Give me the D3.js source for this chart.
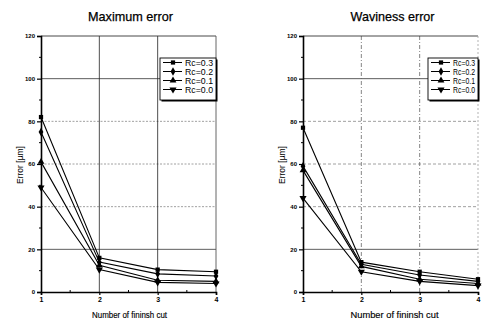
<!DOCTYPE html>
<html>
<head>
<meta charset="utf-8">
<script src="https://cdn.jsdelivr.net/npm/d3@7/dist/d3.min.js"></script>
<style>
  html, body { margin: 0; padding: 0; background: #fff; }
  svg { display: block; }
  text { font-family: "Liberation Sans", Arial, sans-serif; fill: #000; }
</style>
</head>
<body>
<svg id="chart" width="488" height="326"></svg>
<script>
// Finish-cut count on the x axis
const cuts = [1, 2, 3, 4];
const seriesNames = ["Rc=0.3", "Rc=0.2", "Rc=0.1", "Rc=0.0"];
const yTicks = [0, 20, 40, 60, 80, 100, 120];

// Maximum error [µm] per corner radius
const maxRc03 = [82, 16, 10.5, 9.5];
const maxRc02 = [75, 14, 8.5, 7.5];
const maxRc01 = [61, 12.5, 5.5, 5];
const maxRc00 = [49, 10.5, 4.5, 4];

// Waviness error [µm] per corner radius
const wavRc03 = [77, 14, 9.5, 6];
const wavRc02 = [59, 13, 8, 5];
const wavRc01 = [57, 12, 6, 4];
const wavRc00 = [44, 9.5, 5, 3];

const svg = d3.select("#chart");

const symbolTypes = [d3.symbolSquare, d3.symbolDiamond, d3.symbolTriangle, d3.symbolTriangle];
const symbolRot = [0, 0, 0, 180];
const symbolSizes = [18, 20, 20, 22];

function drawPanel(opt) {
  const g = svg.append("g");
  const x = d3.scaleLinear().domain([1, 4]).range([opt.left, opt.right]);
  const y = d3.scaleLinear().domain([0, 120]).range([292, 36]);

  // title
  g.append("text")
    .attr("x", (opt.left + opt.right) / 2 + 2)
    .attr("y", 21)
    .attr("text-anchor", "middle")
    .attr("font-size", 13)
    .attr("stroke", "#000").attr("stroke-width", 0.25)
    .attr("textLength", opt.titleLen)
    .attr("lengthAdjust", "spacingAndGlyphs")
    .text(opt.title);

  // horizontal grid
  g.append("g").selectAll("line")
    .data(yTicks.filter(v => v > 0 && v < 120))
    .join("line")
    .attr("x1", opt.left).attr("x2", opt.right)
    .attr("y1", d => y(d)).attr("y2", d => y(d))
    .attr("stroke", d => (d === 100 || d === 20) ? "#333" : opt.gridSoft)
    .attr("stroke-width", 0.8)
    .attr("stroke-dasharray", d => (d === 100 || d === 20) ? null : opt.hDash);

  // vertical grid
  g.append("g").selectAll("line")
    .data([2, 3])
    .join("line")
    .attr("x1", d => x(d)).attr("x2", d => x(d))
    .attr("y1", y(120)).attr("y2", y(0))
    .attr("stroke", opt.vColor)
    .attr("stroke-width", 0.8)
    .attr("stroke-dasharray", opt.vDash);

  // frame: top and right
  g.append("line")
    .attr("x1", opt.left).attr("x2", opt.right)
    .attr("y1", y(120)).attr("y2", y(120))
    .attr("stroke", "#333").attr("stroke-width", 0.9);
  g.append("line")
    .attr("x1", opt.right).attr("x2", opt.right)
    .attr("y1", y(120)).attr("y2", y(0))
    .attr("stroke", opt.rightColor).attr("stroke-width", 0.9)
    .attr("stroke-dasharray", opt.rightDash);

  // y axis
  const yAxis = g.append("g")
    .attr("transform", `translate(${opt.left},0)`)
    .call(d3.axisLeft(y).tickValues(yTicks).tickSize(4).tickPadding(2).tickFormat(d3.format("d")));
  yAxis.select(".domain").attr("stroke", "#000").attr("stroke-width", 1.6);
  yAxis.selectAll(".tick line").attr("stroke", "#000").attr("stroke-width", 1.2);
  yAxis.selectAll(".tick text")
    .attr("font-size", 6).attr("font-weight", "bold")
    .attr("font-family", "'Liberation Sans', Arial, sans-serif");
  // minor y ticks
  g.append("g").selectAll("line")
    .data(d3.range(10, 120, 20))
    .join("line")
    .attr("x1", opt.left - 2).attr("x2", opt.left)
    .attr("y1", d => y(d)).attr("y2", d => y(d))
    .attr("stroke", "#000").attr("stroke-width", 1);

  // x axis
  const xAxis = g.append("g")
    .attr("transform", `translate(0,${y(0)})`)
    .call(d3.axisBottom(x).tickValues(cuts).tickSize(3).tickPadding(2).tickFormat(d3.format("d")));
  xAxis.select(".domain").attr("stroke", "#000").attr("stroke-width", 1.6);
  xAxis.selectAll(".tick line").attr("stroke", "#000").attr("stroke-width", 1.2);
  xAxis.selectAll(".tick text")
    .attr("font-size", 7).attr("font-weight", "bold")
    .attr("font-family", "'Liberation Sans', Arial, sans-serif");
  // minor x ticks
  g.append("g").selectAll("line")
    .data([1.5, 2.5, 3.5])
    .join("line")
    .attr("x1", d => x(d)).attr("x2", d => x(d))
    .attr("y1", y(0) - 2).attr("y2", y(0))
    .attr("stroke", "#000").attr("stroke-width", 1);

  // axis titles
  g.append("text")
    .attr("x", (opt.left + opt.right) / 2 + opt.xLabelShift)
    .attr("y", 318)
    .attr("text-anchor", "middle")
    .attr("font-size", 9.5)
    .attr("stroke", "#000").attr("stroke-width", 0.15)
    .attr("textLength", opt.xLabelLen)
    .attr("lengthAdjust", "spacingAndGlyphs")
    .text("Number of fininsh cut");
  g.append("text")
    .attr("transform", `translate(${opt.left - 18},165) rotate(-90)`)
    .attr("text-anchor", "middle")
    .attr("font-size", 8.5)
    .text("Error [µm]");

  // series lines and markers
  const line = d3.line().x((d, i) => x(cuts[i])).y(d => y(d));
  opt.series.forEach((vals, si) => {
    g.append("path")
      .datum(vals)
      .attr("d", line)
      .attr("fill", "none")
      .attr("stroke", "#000")
      .attr("stroke-width", 1.1);
    g.append("g").selectAll("path")
      .data(vals)
      .join("path")
      .attr("d", d3.symbol().type(symbolTypes[si]).size(symbolSizes[si]))
      .attr("transform", (d, i) => `translate(${x(cuts[i])},${y(d)}) rotate(${symbolRot[si]})`)
      .attr("fill", "#000");
  });

  // legend
  const lg = g.append("g");
  const lx = opt.legendX, ly = 58, lw = opt.right - opt.legendX, lh = 42;
  lg.append("rect")
    .attr("x", lx + 1.5).attr("y", ly + 1.5)
    .attr("width", lw).attr("height", lh)
    .attr("fill", "#000");
  lg.append("rect")
    .attr("x", lx).attr("y", ly)
    .attr("width", lw).attr("height", lh)
    .attr("fill", "#fff").attr("stroke", "#000").attr("stroke-width", 0.9);
  seriesNames.forEach((name, si) => {
    const yy = ly + 4.5 + si * 9;
    lg.append("line")
      .attr("x1", lx + 3).attr("x2", lx + 22)
      .attr("y1", yy).attr("y2", yy)
      .attr("stroke", "#000").attr("stroke-width", 1);
    lg.append("path")
      .attr("d", d3.symbol().type(symbolTypes[si]).size(symbolSizes[si]))
      .attr("transform", `translate(${lx + 13},${yy}) rotate(${symbolRot[si]})`)
      .attr("fill", "#000");
    lg.append("text")
      .attr("x", lx + 25).attr("y", yy + 3)
      .attr("font-size", 8.5)
      .attr("textLength", lw - 28)
      .attr("lengthAdjust", "spacingAndGlyphs")
      .text(name);
  });
}

drawPanel({
  title: "Maximum error", titleLen: 85,
  left: 41, right: 216,
  series: [maxRc03, maxRc02, maxRc01, maxRc00],
  gridSoft: "#888", hDash: "2,1.5",
  vColor: "#222", vDash: null,
  rightColor: "#555", rightDash: null,
  xLabelShift: 1, xLabelLen: 75,
  legendX: 160
});

drawPanel({
  title: "Waviness error", titleLen: 84,
  left: 303, right: 478,
  series: [wavRc03, wavRc02, wavRc01, wavRc00],
  gridSoft: "#888", hDash: "3,2",
  vColor: "#666", vDash: "4,2,1,2",
  rightColor: "#aaa", rightDash: "2,2",
  xLabelShift: 4, xLabelLen: 88,
  legendX: 428
});
</script>
</body>
</html>
